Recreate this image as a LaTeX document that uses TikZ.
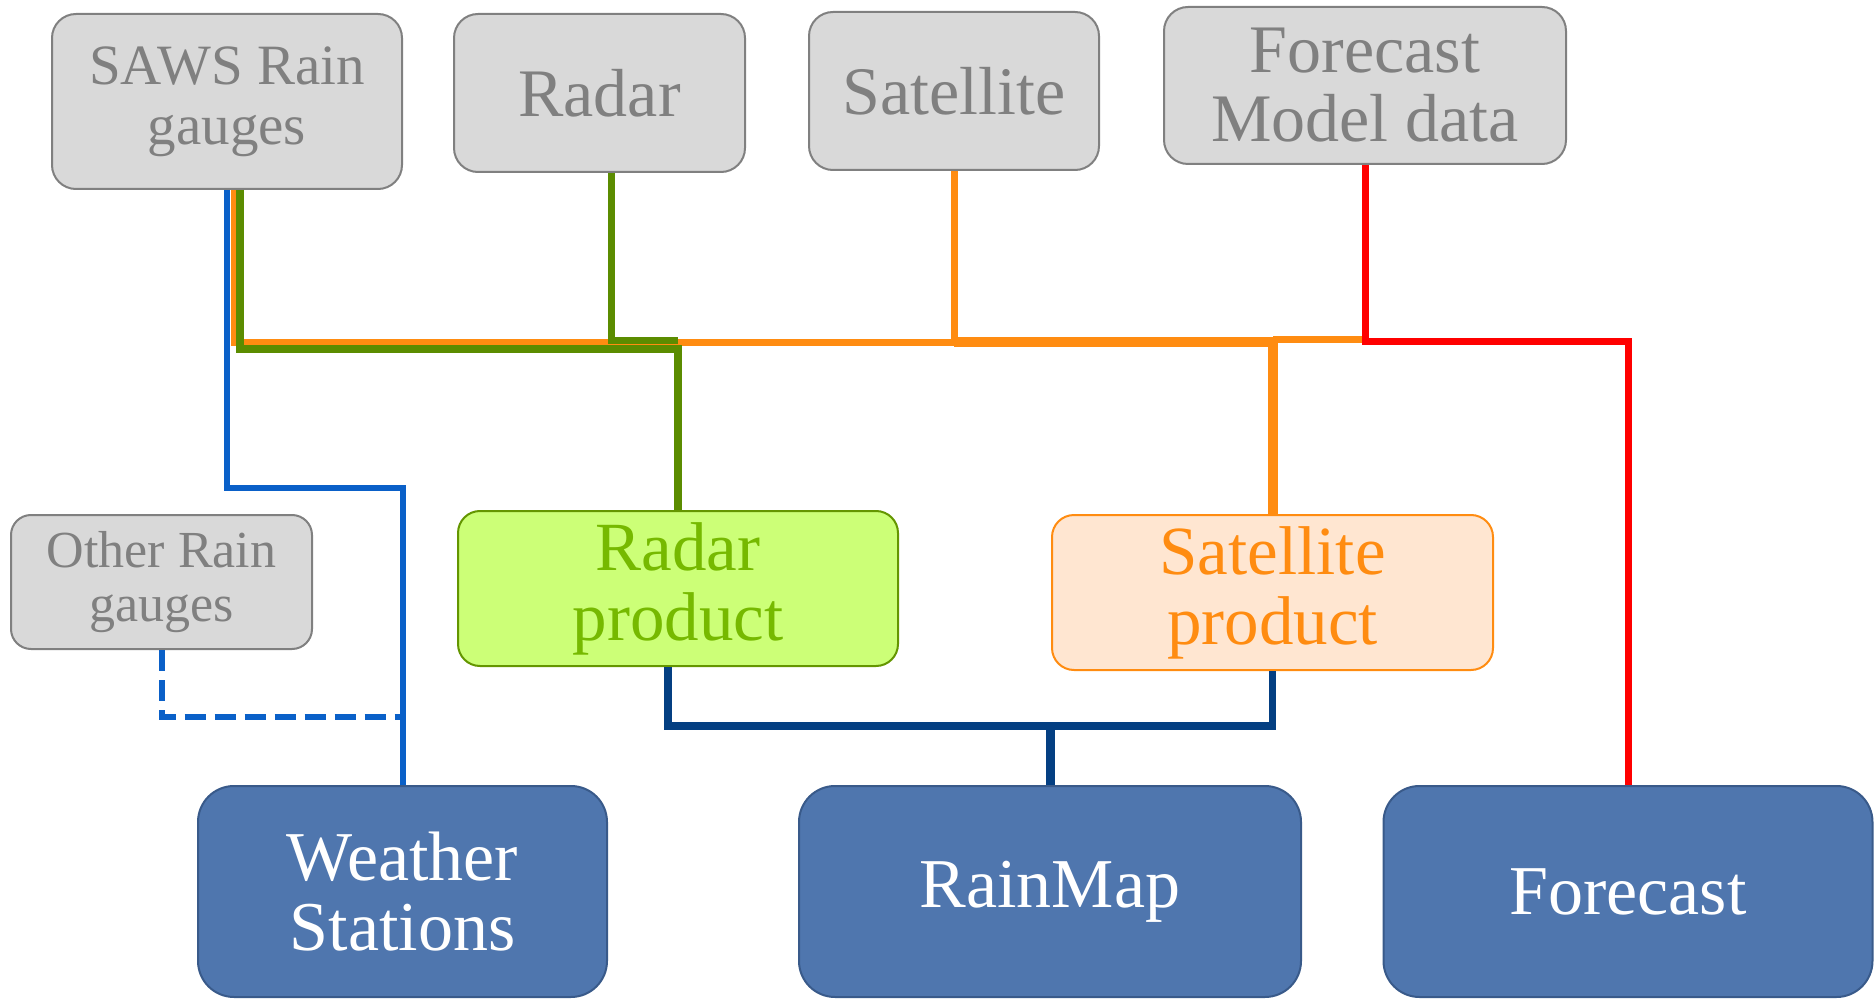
\documentclass[tikz,border=0pt]{standalone}
\usepackage{fontspec}
\setmainfont{Liberation Serif}
\usepackage{tikz}

\definecolor{boxgray}{RGB}{217,217,217}
\definecolor{edgegray}{RGB}{128,128,128}
\definecolor{radarfill}{RGB}{204,255,119}
\definecolor{radartext}{RGB}{118,185,0}
\definecolor{radaredge}{RGB}{100,150,0}
\definecolor{satfill}{RGB}{255,230,209}
\definecolor{satorange}{RGB}{255,140,17}
\definecolor{outfill}{RGB}{79,118,174}
\definecolor{outedge}{RGB}{57,90,138}
\definecolor{wireblue}{RGB}{10,96,200}
\definecolor{wiregreen}{RGB}{91,140,0}
\definecolor{wirered}{RGB}{255,0,0}
\definecolor{wirenavy}{RGB}{4,63,130}

\begin{document}
\begin{tikzpicture}[x=1pt, y=-1pt,
	srcbox/.style={draw=edgegray, line width=2pt, fill=boxgray, text=edgegray, rounded corners=24pt, align=center, inner sep=0pt, font=\fontsize{68}{69}\selectfont},
	radarbox/.style={draw=radaredge, line width=2pt, fill=radarfill, text=radartext, rounded corners=22pt, align=center, inner sep=0pt, font=\fontsize{69}{70}\selectfont},
	satbox/.style={draw=satorange, line width=2pt, fill=satfill, text=satorange, rounded corners=22pt, align=center, inner sep=0pt, font=\fontsize{69}{70}\selectfont},
	outbox/.style={draw=outedge, line width=2pt, fill=outfill, text=white, rounded corners=36pt, align=center, inner sep=0pt, minimum height=211pt, font=\fontsize{70}{70}\selectfont},
	bluewire/.style={draw=wireblue, line width=6pt},
	greenwire/.style={draw=wiregreen, line width=8pt},
	orangewire/.style={draw=satorange, line width=7pt},
	redwire/.style={draw=wirered, line width=7pt},
	navywire/.style={draw=wirenavy, line width=7.5pt}]
	\useasboundingbox (0,0) rectangle (1874,1000);

	% data sources
	\node[srcbox, minimum width=350pt, minimum height=175pt, font=\fontsize{57}{60}\selectfont] (saws) at (227,101.5) {SAWS Rain\\gauges};
	\node[srcbox, minimum width=291pt, minimum height=158pt] (radar) at (599.5,93) {Radar};
	\node[srcbox, minimum width=290pt, minimum height=158pt] (sat) at (954,91) {Satellite};
	\node[srcbox, minimum width=402pt, minimum height=157pt] (fmd) at (1365,85.5) {Forecast\\Model data};
	\node[srcbox, minimum width=301pt, minimum height=134pt, rounded corners=20pt, font=\fontsize{52}{54}\selectfont] (other) at (161.5,582) {Other Rain\\gauges};

	% products
	\node[radarbox, minimum width=440pt, minimum height=155pt] (rprod) at (678,588.5) {Radar\\product};
	\node[satbox, minimum width=441pt, minimum height=155pt] (sprod) at (1272.5,592.5) {Satellite\\product};

	% outputs
	\node[outbox, minimum width=409pt] (ws) at (402.5,891.5) {Weather\\Stations};
	\node[outbox, minimum width=502pt] (rainmap) at (1050,891.5) {RainMap};
	\node[outbox, minimum width=489pt] (fc) at (1628,891.5) {Forecast};

	\coordinate (bus) at (0,342);
	\coordinate (gbus) at (0,349);
	\coordinate (wsbend) at (0,488);
	\coordinate (dashbend) at (0,717);
	\coordinate (mapbus) at (0,726);

	% orange: into satellite product
	\draw[orangewire] ([xshift=7pt]saws.south) |- (bus -| sprod.north);
	\draw[orangewire] (sat.south) -- (sat.south |- bus);
	\draw[orangewire, line width=10pt] (bus -| sat.south) -| (sprod.north);
	\draw[orangewire] ([yshift=3pt]bus -| fmd.south) -- ([yshift=3pt]bus -| sprod.north);
	% green: into radar product
	\draw[greenwire] ([xshift=13pt]saws.south) |- (gbus -| rprod.north) -- (rprod.north);
	\draw[greenwire, line width=7pt] ([xshift=12pt]radar.south) |- ([yshift=2pt]bus -| rprod.north);
	% red: forecast
	\draw[redwire] (fmd.south) |- ([yshift=1pt]bus -| fc.north) -- (fc.north);
	% blue: weather stations
	\draw[bluewire] (saws.south) |- (wsbend -| ws.north) -- (ws.north);
	\draw[bluewire, dash pattern=on 21pt off 9pt] (other.south) |- (dashbend -| ws.north);
	% navy: rainmap
	\draw[navywire] ([xshift=-10pt]rprod.south) |- (mapbus -| rainmap.north);
	\draw[navywire] (sprod.south) |- (mapbus -| rainmap.north);
	\draw[navywire, line width=9pt] (mapbus -| rainmap.north) -- (rainmap.north);
\end{tikzpicture}
\end{document}
